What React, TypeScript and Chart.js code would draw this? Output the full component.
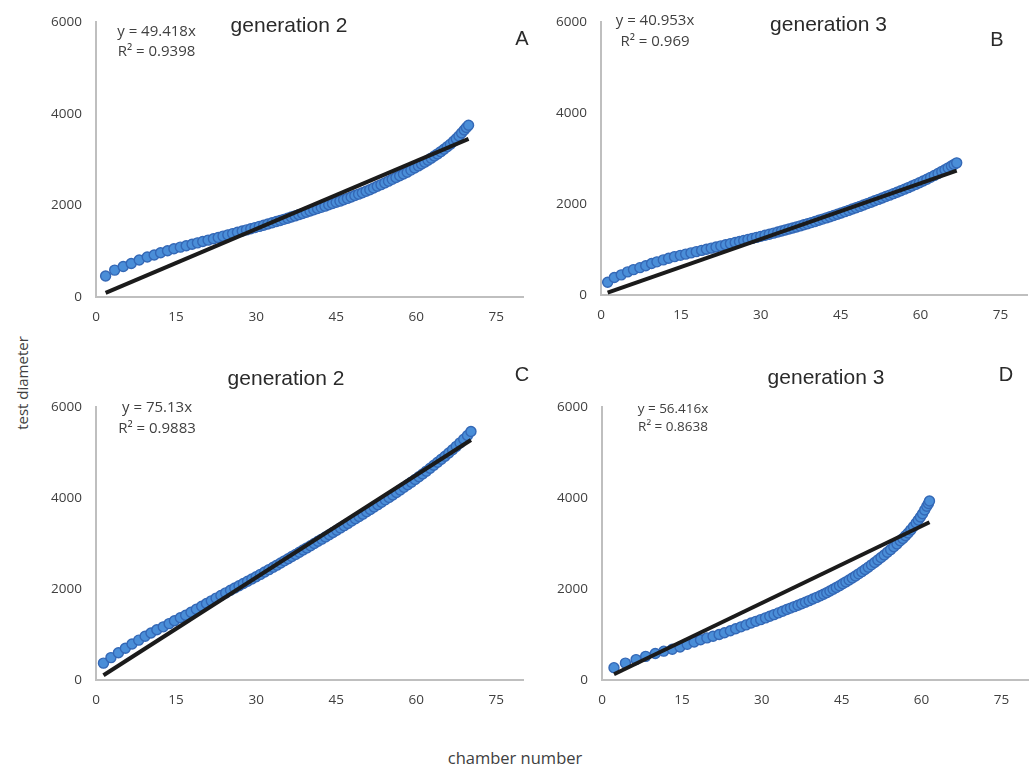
import React, { useEffect, useRef } from 'react';
import { Chart, registerables } from 'chart.js';

Chart.register(...registerables);

// ---------- data ----------
const xTicks = [0, 15, 30, 45, 60, 75];
const yTicks = [0, 2000, 4000, 6000];
const X_MAX = 80;
const Y_MAX = 6000;

const titles = ['generation 2', 'generation 3', 'generation 2', 'generation 3'];
const letters = ['A', 'B', 'C', 'D'];
const slopes = [49.418, 40.953, 75.13, 56.416];
const slopeLabels = ['49.418', '40.953', '75.13', '56.416'];
const r2Labels = ['0.9398', '0.969', '0.9883', '0.8638'];

const aX = [1.8, 3.5, 5.1, 6.6, 8.1, 9.6, 10.9, 12.1, 13.4, 14.6, 15.8, 16.9, 18.0, 19.0, 20.0, 21.0, 22.0, 22.9, 23.8, 24.7, 25.6, 26.5, 27.4, 28.2, 29.0, 29.8, 30.6, 31.4, 32.2, 33.0, 33.8, 34.5, 35.2, 35.9, 36.6, 37.3, 38.0, 38.7, 39.4, 40.1, 40.8, 41.5, 42.2, 42.9, 43.6, 44.3, 45.0, 45.7, 46.4, 47.1, 47.8, 48.5, 49.2, 49.9, 50.6, 51.3, 52.0, 52.7, 53.4, 54.1, 54.8, 55.5, 56.2, 56.9, 57.6, 58.3, 59.0, 59.7, 60.4, 61.0, 61.6, 62.2, 62.8, 63.4, 64.0, 64.6, 65.2, 65.8, 66.4, 67.0, 67.5, 68.0, 68.5, 69.0, 69.4, 69.8];
const aY = [458, 587, 666, 730, 809, 873, 916, 967, 1010, 1052, 1088, 1120, 1152, 1182, 1212, 1242, 1272, 1300, 1328, 1356, 1384, 1412, 1440, 1465, 1490, 1515, 1541, 1567, 1593, 1620, 1647, 1671, 1695, 1720, 1745, 1771, 1797, 1823, 1850, 1877, 1903, 1930, 1957, 1984, 2012, 2040, 2068, 2093, 2123, 2153, 2183, 2214, 2245, 2277, 2309, 2342, 2379, 2416, 2453, 2491, 2529, 2568, 2607, 2647, 2685, 2724, 2770, 2816, 2862, 2902, 2943, 2986, 3031, 3077, 3124, 3173, 3225, 3279, 3336, 3398, 3455, 3515, 3578, 3644, 3698, 3750];

const bX = [1.25, 2.5, 3.8, 5.0, 6.1, 7.3, 8.4, 9.5, 10.5, 11.7, 12.7, 13.8, 14.9, 15.9, 16.9, 17.9, 18.9, 19.8, 20.7, 21.6, 22.5, 23.4, 24.3, 25.2, 26.0, 26.8, 27.6, 28.4, 29.2, 30.0, 30.8, 31.6, 32.4, 33.2, 33.9, 34.6, 35.3, 36.0, 36.7, 37.4, 38.1, 38.8, 39.5, 40.2, 40.9, 41.6, 42.3, 43.0, 43.7, 44.4, 45.1, 45.8, 46.5, 47.2, 47.9, 48.6, 49.3, 50.0, 50.7, 51.4, 52.1, 52.8, 53.5, 54.2, 54.9, 55.6, 56.3, 57.0, 57.7, 58.4, 59.1, 59.8, 60.5, 61.2, 61.9, 62.6, 63.3, 64.0, 64.6, 65.2, 65.8, 66.3, 66.8];
const bY = [279, 386, 443, 508, 558, 601, 644, 694, 729, 772, 808, 844, 872, 899, 926, 953, 981, 1005, 1030, 1055, 1080, 1105, 1130, 1155, 1177, 1200, 1222, 1245, 1267, 1290, 1313, 1337, 1361, 1385, 1406, 1428, 1450, 1473, 1496, 1519, 1543, 1567, 1592, 1617, 1643, 1669, 1695, 1722, 1749, 1776, 1804, 1832, 1861, 1890, 1919, 1949, 1979, 2010, 2040, 2071, 2102, 2133, 2164, 2196, 2228, 2260, 2293, 2327, 2361, 2396, 2432, 2469, 2507, 2546, 2587, 2629, 2673, 2718, 2755, 2795, 2835, 2870, 2905];

const cX = [1.4, 2.8, 4.2, 5.5, 6.75, 8.0, 9.2, 10.3, 11.4, 12.6, 13.7, 14.7, 15.8, 16.8, 17.8, 18.8, 19.8, 20.7, 21.6, 22.5, 23.4, 24.3, 25.2, 26.0, 26.8, 27.6, 28.4, 29.2, 30.0, 30.8, 31.6, 32.4, 33.2, 33.9, 34.6, 35.3, 36.0, 36.7, 37.4, 38.1, 38.8, 39.5, 40.2, 40.9, 41.6, 42.3, 43.0, 43.7, 44.4, 45.1, 45.8, 46.5, 47.2, 47.9, 48.6, 49.3, 50.0, 50.7, 51.4, 52.1, 52.8, 53.5, 54.2, 54.9, 55.6, 56.3, 57.0, 57.7, 58.4, 59.1, 59.8, 60.5, 61.2, 61.9, 62.6, 63.3, 64.0, 64.7, 65.4, 66.1, 66.8, 67.5, 68.2, 68.9, 69.6, 70.25];
const cY = [371, 492, 599, 698, 791, 876, 962, 1033, 1105, 1169, 1240, 1304, 1368, 1425, 1489, 1555, 1621, 1681, 1740, 1800, 1858, 1915, 1972, 2022, 2071, 2121, 2170, 2220, 2270, 2322, 2374, 2427, 2480, 2526, 2573, 2620, 2667, 2714, 2761, 2809, 2857, 2905, 2953, 3001, 3049, 3097, 3146, 3195, 3244, 3294, 3344, 3394, 3444, 3494, 3545, 3596, 3647, 3698, 3750, 3802, 3855, 3908, 3961, 4015, 4069, 4124, 4180, 4236, 4293, 4351, 4410, 4470, 4531, 4593, 4656, 4720, 4786, 4853, 4921, 4991, 5063, 5137, 5213, 5292, 5375, 5463];

const dX = [2.25, 4.4, 6.4, 8.2, 10.0, 11.6, 13.2, 14.65, 16.0, 17.3, 18.5, 19.7, 20.85, 22.0, 23.0, 24.1, 25.1, 26.1, 27.05, 28.0, 28.9, 29.8, 30.7, 31.5, 32.3, 33.1, 33.9, 34.7, 35.4, 36.1, 36.8, 37.5, 38.2, 38.9, 39.6, 40.3, 41.0, 41.6, 42.2, 42.8, 43.4, 44.0, 44.6, 45.2, 45.8, 46.4, 47.0, 47.6, 48.2, 48.8, 49.4, 50.0, 50.6, 51.2, 51.8, 52.4, 53.0, 53.6, 54.2, 54.8, 55.4, 56.0, 56.5, 57.0, 57.5, 58.0, 58.5, 59.0, 59.4, 59.8, 60.2, 60.6, 61.0, 61.3, 61.5];
const dY = [271, 371, 449, 520, 584, 634, 677, 727, 784, 834, 884, 926, 962, 1000, 1040, 1083, 1126, 1169, 1211, 1254, 1290, 1327, 1366, 1402, 1438, 1475, 1512, 1549, 1581, 1613, 1645, 1678, 1711, 1745, 1780, 1816, 1853, 1886, 1920, 1957, 1995, 2034, 2074, 2115, 2157, 2200, 2244, 2288, 2334, 2382, 2431, 2481, 2532, 2585, 2639, 2694, 2750, 2808, 2867, 2928, 2992, 3060, 3113, 3170, 3233, 3300, 3373, 3450, 3516, 3585, 3656, 3736, 3820, 3880, 3937];

const seriesX = [aX, bX, cX, dX];
const seriesY = [aY, bY, cY, dY];

// ---------- layout (page pixels) ----------
type Layout = {
  cx: number; cy: number; cw: number; ch: number;
  left: number; right: number; top: number; bottom: number;
  tx: number; ty: number; lx: number; ly: number;
  ex: number; ey1: number; ey2: number; es: number;
};
const layouts: Layout[] = [
  { cx: 40, cy: 0, cw: 500, ch: 335, left: 96, right: 523, top: 17, bottom: 297, tx: 289, ty: 24, lx: 522, ly: 38, ex: 156.5, ey1: 30, ey2: 50, es: 15 },
  { cx: 545, cy: 0, cw: 490, ch: 335, left: 601, right: 1027, top: 15, bottom: 295, tx: 828.5, ty: 23, lx: 997, ly: 39, ex: 655, ey1: 19, ey2: 40, es: 15 },
  { cx: 40, cy: 385, cw: 500, ch: 335, left: 96, right: 523, top: 399, bottom: 680, tx: 286, ty: 377, lx: 522, ly: 374, ex: 157, ey1: 406, ey2: 427, es: 15 },
  { cx: 545, cy: 385, cw: 490, ch: 335, left: 602, right: 1028, top: 399, bottom: 680, tx: 826, ty: 376, lx: 1006, ly: 374, ex: 673, ey1: 409, ey2: 427, es: 13.5 },
];

const TICK_FONT = { family: "'Open Sans', 'DejaVu Sans', sans-serif", size: 13.5 };
const TICK_COLOR = '#404040';
const AXIS_COLOR = '#bfbfbf';

function Panel({ idx }: { idx: number }) {
  const ref = useRef<HTMLCanvasElement | null>(null);
  const L = layouts[idx];
  useEffect(() => {
    if (!ref.current) return;
    const xs = seriesX[idx];
    const ys = seriesY[idx];
    const pts = xs.map((x, i) => ({ x, y: ys[i] }));
    const xmin = Math.min(...xs);
    const xmax = Math.max(...xs);
    const k = slopes[idx];
    const chart = new Chart(ref.current, {
      type: 'scatter',
      data: {
        datasets: [
          {
            type: 'line',
            data: [{ x: xmin, y: k * xmin }, { x: xmax, y: k * xmax }],
            borderColor: '#1b1b1b',
            borderWidth: 4,
            pointRadius: 0,
            showLine: true,
            fill: false,
            order: 0,
          } as any,
          {
            type: 'scatter',
            data: pts,
            backgroundColor: '#4a8ed8',
            borderColor: '#3468b6',
            borderWidth: 1.4,
            pointRadius: 5,
            order: 1,
          } as any,
        ],
      },
      options: {
        animation: false,
        responsive: false,
        maintainAspectRatio: false,
        events: [],
        layout: {
          padding: { top: L.top - L.cy, right: L.cx + L.cw - L.right, left: 0, bottom: 0 },
        },
        plugins: { legend: { display: false }, tooltip: { enabled: false }, title: { display: false } },
        scales: {
          x: {
            type: 'linear',
            min: 0,
            max: X_MAX,
            grid: { display: false, drawTicks: false },
            border: { display: true, color: AXIS_COLOR, width: 2 },
            ticks: { padding: 12, font: TICK_FONT, color: TICK_COLOR, callback: (v: any) => String(v), maxRotation: 0 },
            afterBuildTicks: (s: any) => { s.ticks = xTicks.map((v) => ({ value: v })); },
            afterFit: (s: any) => { s.height = L.cy + L.ch - L.bottom; },
          },
          y: {
            type: 'linear',
            min: 0,
            max: Y_MAX,
            grid: { display: false, drawTicks: false },
            border: { display: true, color: AXIS_COLOR, width: 2 },
            ticks: { padding: 14, font: TICK_FONT, color: TICK_COLOR, callback: (v: any) => String(v) },
            afterBuildTicks: (s: any) => { s.ticks = yTicks.map((v) => ({ value: v })); },
            afterFit: (s: any) => { s.width = L.left - L.cx; },
          },
        },
      } as any,
    });
    return () => chart.destroy();
  }, [idx]);
  return (
    <canvas
      ref={ref}
      width={L.cw}
      height={L.ch}
      style={{ position: 'absolute', left: L.cx, top: L.cy, width: L.cw, height: L.ch }}
    />
  );
}

const centered = (x: number, y: number): React.CSSProperties => ({
  position: 'absolute',
  left: x,
  top: y,
  transform: 'translate(-50%, -50%)',
  whiteSpace: 'nowrap',
  lineHeight: 1,
});

export default function App() {
  const eqFont = "'Open Sans', 'DejaVu Sans', sans-serif";
  const titleFont = "'Liberation Sans', Arial, sans-serif";
  return (
    <div style={{ position: 'absolute', left: 0, top: 0, width: 1035, height: 770, background: '#ffffff', overflow: 'hidden' }}>
      {layouts.map((L, i) => (
        <React.Fragment key={i}>
          <Panel idx={i} />
          <div style={{ ...centered(L.tx, L.ty), fontFamily: titleFont, fontSize: 21, color: '#2a2a2a' }}>{titles[i]}</div>
          <div style={{ ...centered(L.lx, L.ly), fontFamily: titleFont, fontSize: 20, color: '#2a2a2a' }}>{letters[i]}</div>
          <div style={{ ...centered(L.ex, L.ey1), fontFamily: eqFont, fontSize: L.es, color: '#404040' }}>{`y = ${slopeLabels[i]}x`}</div>
          <div style={{ ...centered(L.ex, L.ey2), fontFamily: eqFont, fontSize: L.es, color: '#404040' }}>{`R² = ${r2Labels[i]}`}</div>
        </React.Fragment>
      ))}
      <div style={{ ...centered(22, 383), transform: 'translate(-50%, -50%) rotate(-90deg)', fontFamily: eqFont, fontSize: 15, color: '#404040' }}>test diameter</div>
      <div style={{ ...centered(515, 758), fontFamily: eqFont, fontSize: 16.5, color: '#404040' }}>chamber number</div>
    </div>
  );
}
